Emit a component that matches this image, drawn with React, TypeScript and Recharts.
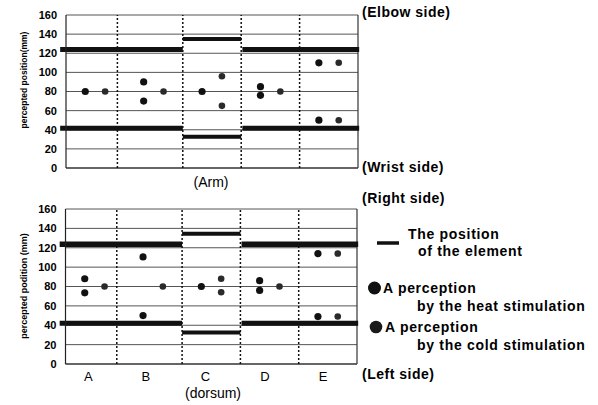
import React from 'react';
import { ComposedChart, Scatter, XAxis, YAxis, CartesianGrid, ReferenceLine } from 'recharts';

const categories = ['A', 'B', 'C', 'D', 'E'];
const yTicks = [0, 20, 40, 60, 80, 100, 120, 140, 160];
const dividers = [0.88, 2, 3, 4];
const categoryTickPos = [0.39, 1.38, 2.4, 3.42, 4.42];

// Arm (top chart)
const armHeat = [
  { x: 0.33, y: 80 }, { x: 1.33, y: 90 }, { x: 1.33, y: 70 }, { x: 2.33, y: 80 },
  { x: 3.33, y: 85 }, { x: 3.33, y: 76 }, { x: 4.33, y: 110 }, { x: 4.33, y: 50 },
];
const armCold = [
  { x: 0.67, y: 80 }, { x: 1.67, y: 80 }, { x: 2.67, y: 96 }, { x: 2.67, y: 65 },
  { x: 3.67, y: 80 }, { x: 4.67, y: 110 }, { x: 4.67, y: 50 },
];
const armElement = [
  { x1: -0.1, x2: 2, y: 124, w: 5 }, { x1: 2, x2: 3, y: 135, w: 4 }, { x1: 3.02, x2: 5.02, y: 124, w: 5 },
  { x1: -0.1, x2: 2, y: 41.5, w: 5 }, { x1: 2, x2: 3, y: 32.7, w: 4 }, { x1: 3.02, x2: 5.02, y: 41.5, w: 5 },
];

// Dorsum (bottom chart)
const dorsumHeat = [
  { x: 0.33, y: 88 }, { x: 0.33, y: 73.5 }, { x: 1.33, y: 110.5 }, { x: 1.33, y: 50 },
  { x: 2.33, y: 80 }, { x: 3.33, y: 86 }, { x: 3.33, y: 76 }, { x: 4.33, y: 114 }, { x: 4.33, y: 49 },
];
const dorsumCold = [
  { x: 0.67, y: 80 }, { x: 1.67, y: 80 }, { x: 2.67, y: 88 }, { x: 2.67, y: 74 },
  { x: 3.67, y: 80 }, { x: 4.67, y: 114 }, { x: 4.67, y: 49 },
];
const dorsumElement = [
  { x1: -0.1, x2: 2, y: 123.5, w: 5.5 }, { x1: 2, x2: 3, y: 134.5, w: 4 }, { x1: 3.02, x2: 5.02, y: 123.5, w: 5.5 },
  { x1: -0.1, x2: 2, y: 42, w: 5 }, { x1: 2, x2: 3, y: 32.5, w: 4 }, { x1: 3.02, x2: 5.02, y: 42, w: 5 },
];

const heatShape = (p: any) => <circle cx={p.cx} cy={p.cy} r={3.6} fill="#111" />;
const coldShape = (p: any) => <circle cx={p.cx} cy={p.cy} r={3.3} fill="#2a2a2a" />;

const tickStyle = { fontFamily: 'Liberation Sans, Arial, sans-serif', fontSize: 11, fontWeight: 700, fill: '#000' };

function Panel(props: {
  heat: { x: number; y: number }[];
  cold: { x: number; y: number }[];
  element: { x1: number; x2: number; y: number; w: number }[];
  showX: boolean;
  margin: { top: number; right: number; bottom: number; left: number };
  height: number;
}) {
  const { heat, cold, element, showX, margin, height } = props;
  return (
    <ComposedChart width={598} height={height} margin={margin}>
      <CartesianGrid horizontal={true} vertical={false} stroke="#555" strokeWidth={1} />
      <XAxis
        type="number"
        dataKey="x"
        domain={[0, 5]}
        ticks={categoryTickPos}
        hide={!showX}
        axisLine={false}
        tickLine={false}
        height={20}
        tickFormatter={(v: number) => categories[categoryTickPos.indexOf(v)] ?? ''}
        tick={{ fontFamily: 'Liberation Sans, Arial, sans-serif', fontSize: 13, fill: '#000' }}
        allowDataOverflow
      />
      <YAxis
        type="number"
        dataKey="y"
        domain={[0, 160]}
        ticks={yTicks}
        width={30}
        tickLine={false}
        tickMargin={3}
        axisLine={{ stroke: '#222', strokeWidth: 1.2 }}
        tick={tickStyle}
        interval={0}
      />
      <ReferenceLine y={0} stroke="#222" strokeWidth={1.2} />
      <ReferenceLine x={5} stroke="#333" strokeWidth={1.2} />
      {dividers.map((d, i) => (
        <ReferenceLine key={'d' + i} x={d} stroke="#111" strokeWidth={1.5} strokeDasharray="2 2" />
      ))}
      {element.map((s, i) => (
        <ReferenceLine
          key={'e' + i}
          segment={[{ x: s.x1, y: s.y }, { x: s.x2, y: s.y }]}
          stroke="#111"
          strokeWidth={s.w}
          ifOverflow="visible"
        />
      ))}
      <Scatter data={heat} dataKey="y" shape={heatShape} isAnimationActive={false} />
      <Scatter data={cold} dataKey="y" shape={coldShape} isAnimationActive={false} />
    </ComposedChart>
  );
}

const bold = { fontFamily: 'Liberation Sans, Arial, sans-serif', fontWeight: 700, fill: '#000' } as const;
const reg = { fontFamily: 'Liberation Sans, Arial, sans-serif', fontWeight: 400, fill: '#000' } as const;

export default function App() {
  return (
    <div style={{ position: 'absolute', left: 0, top: 0, width: 598, height: 405, background: '#fff' }}>
      <div style={{ position: 'absolute', left: 0, top: 0 }}>
        <Panel
          heat={armHeat}
          cold={armCold}
          element={armElement}
          showX={false}
          height={200}
          margin={{ top: 15, right: 240, bottom: 32, left: 36 }}
        />
      </div>
      <div style={{ position: 'absolute', left: 0, top: 190 }}>
        <Panel
          heat={dorsumHeat}
          cold={dorsumCold}
          element={dorsumElement}
          showX={true}
          height={200}
          margin={{ top: 19, right: 241, bottom: 6, left: 35.5 }}
        />
      </div>
      <svg width={598} height={405} style={{ position: 'absolute', left: 0, top: 0, pointerEvents: 'none' }}>
        <text {...bold} fontSize={8.5} transform="translate(27,80) rotate(-90)" textAnchor="middle">percepted position(mm)</text>
        <text {...bold} fontSize={9} transform="translate(27,286) rotate(-90)" textAnchor="middle">percepted podition (mm)</text>

        <text {...bold} fontSize={14} letterSpacing={0.5} x={362} y={17}>(Elbow side)</text>
        <text {...bold} fontSize={14} letterSpacing={0.5} x={362} y={172}>(Wrist side)</text>
        <text {...bold} fontSize={14} letterSpacing={0.5} x={362} y={203}>(Right side)</text>
        <text {...bold} fontSize={14} letterSpacing={0.5} x={362} y={379}>(Left side)</text>

        <text {...reg} fontSize={14} x={211} y={187} textAnchor="middle">(Arm)</text>
        <text {...reg} fontSize={14} x={213} y={398} textAnchor="middle">(dorsum)</text>

        <line x1={377} x2={399} y1={243} y2={243} stroke="#111" strokeWidth={3.5} />
        <text {...bold} fontSize={14} letterSpacing={0.7} x={408} y={239}>The position</text>
        <text {...bold} fontSize={14} letterSpacing={0.7} x={418} y={256}>of the element</text>

        <circle cx={374.5} cy={288} r={6.5} fill="#111" />
        <text {...bold} fontSize={14} letterSpacing={0.7} x={383} y={293}>A perception</text>
        <text {...bold} fontSize={14} letterSpacing={0.7} x={417} y={311}>by the heat stimulation</text>

        <circle cx={376} cy={327} r={6.3} fill="#1a1a1a" />
        <text {...bold} fontSize={14} letterSpacing={0.7} x={385} y={332}>A perception</text>
        <text {...bold} fontSize={14} letterSpacing={0.7} x={417} y={350}>by the cold stimulation</text>
      </svg>
    </div>
  );
}
